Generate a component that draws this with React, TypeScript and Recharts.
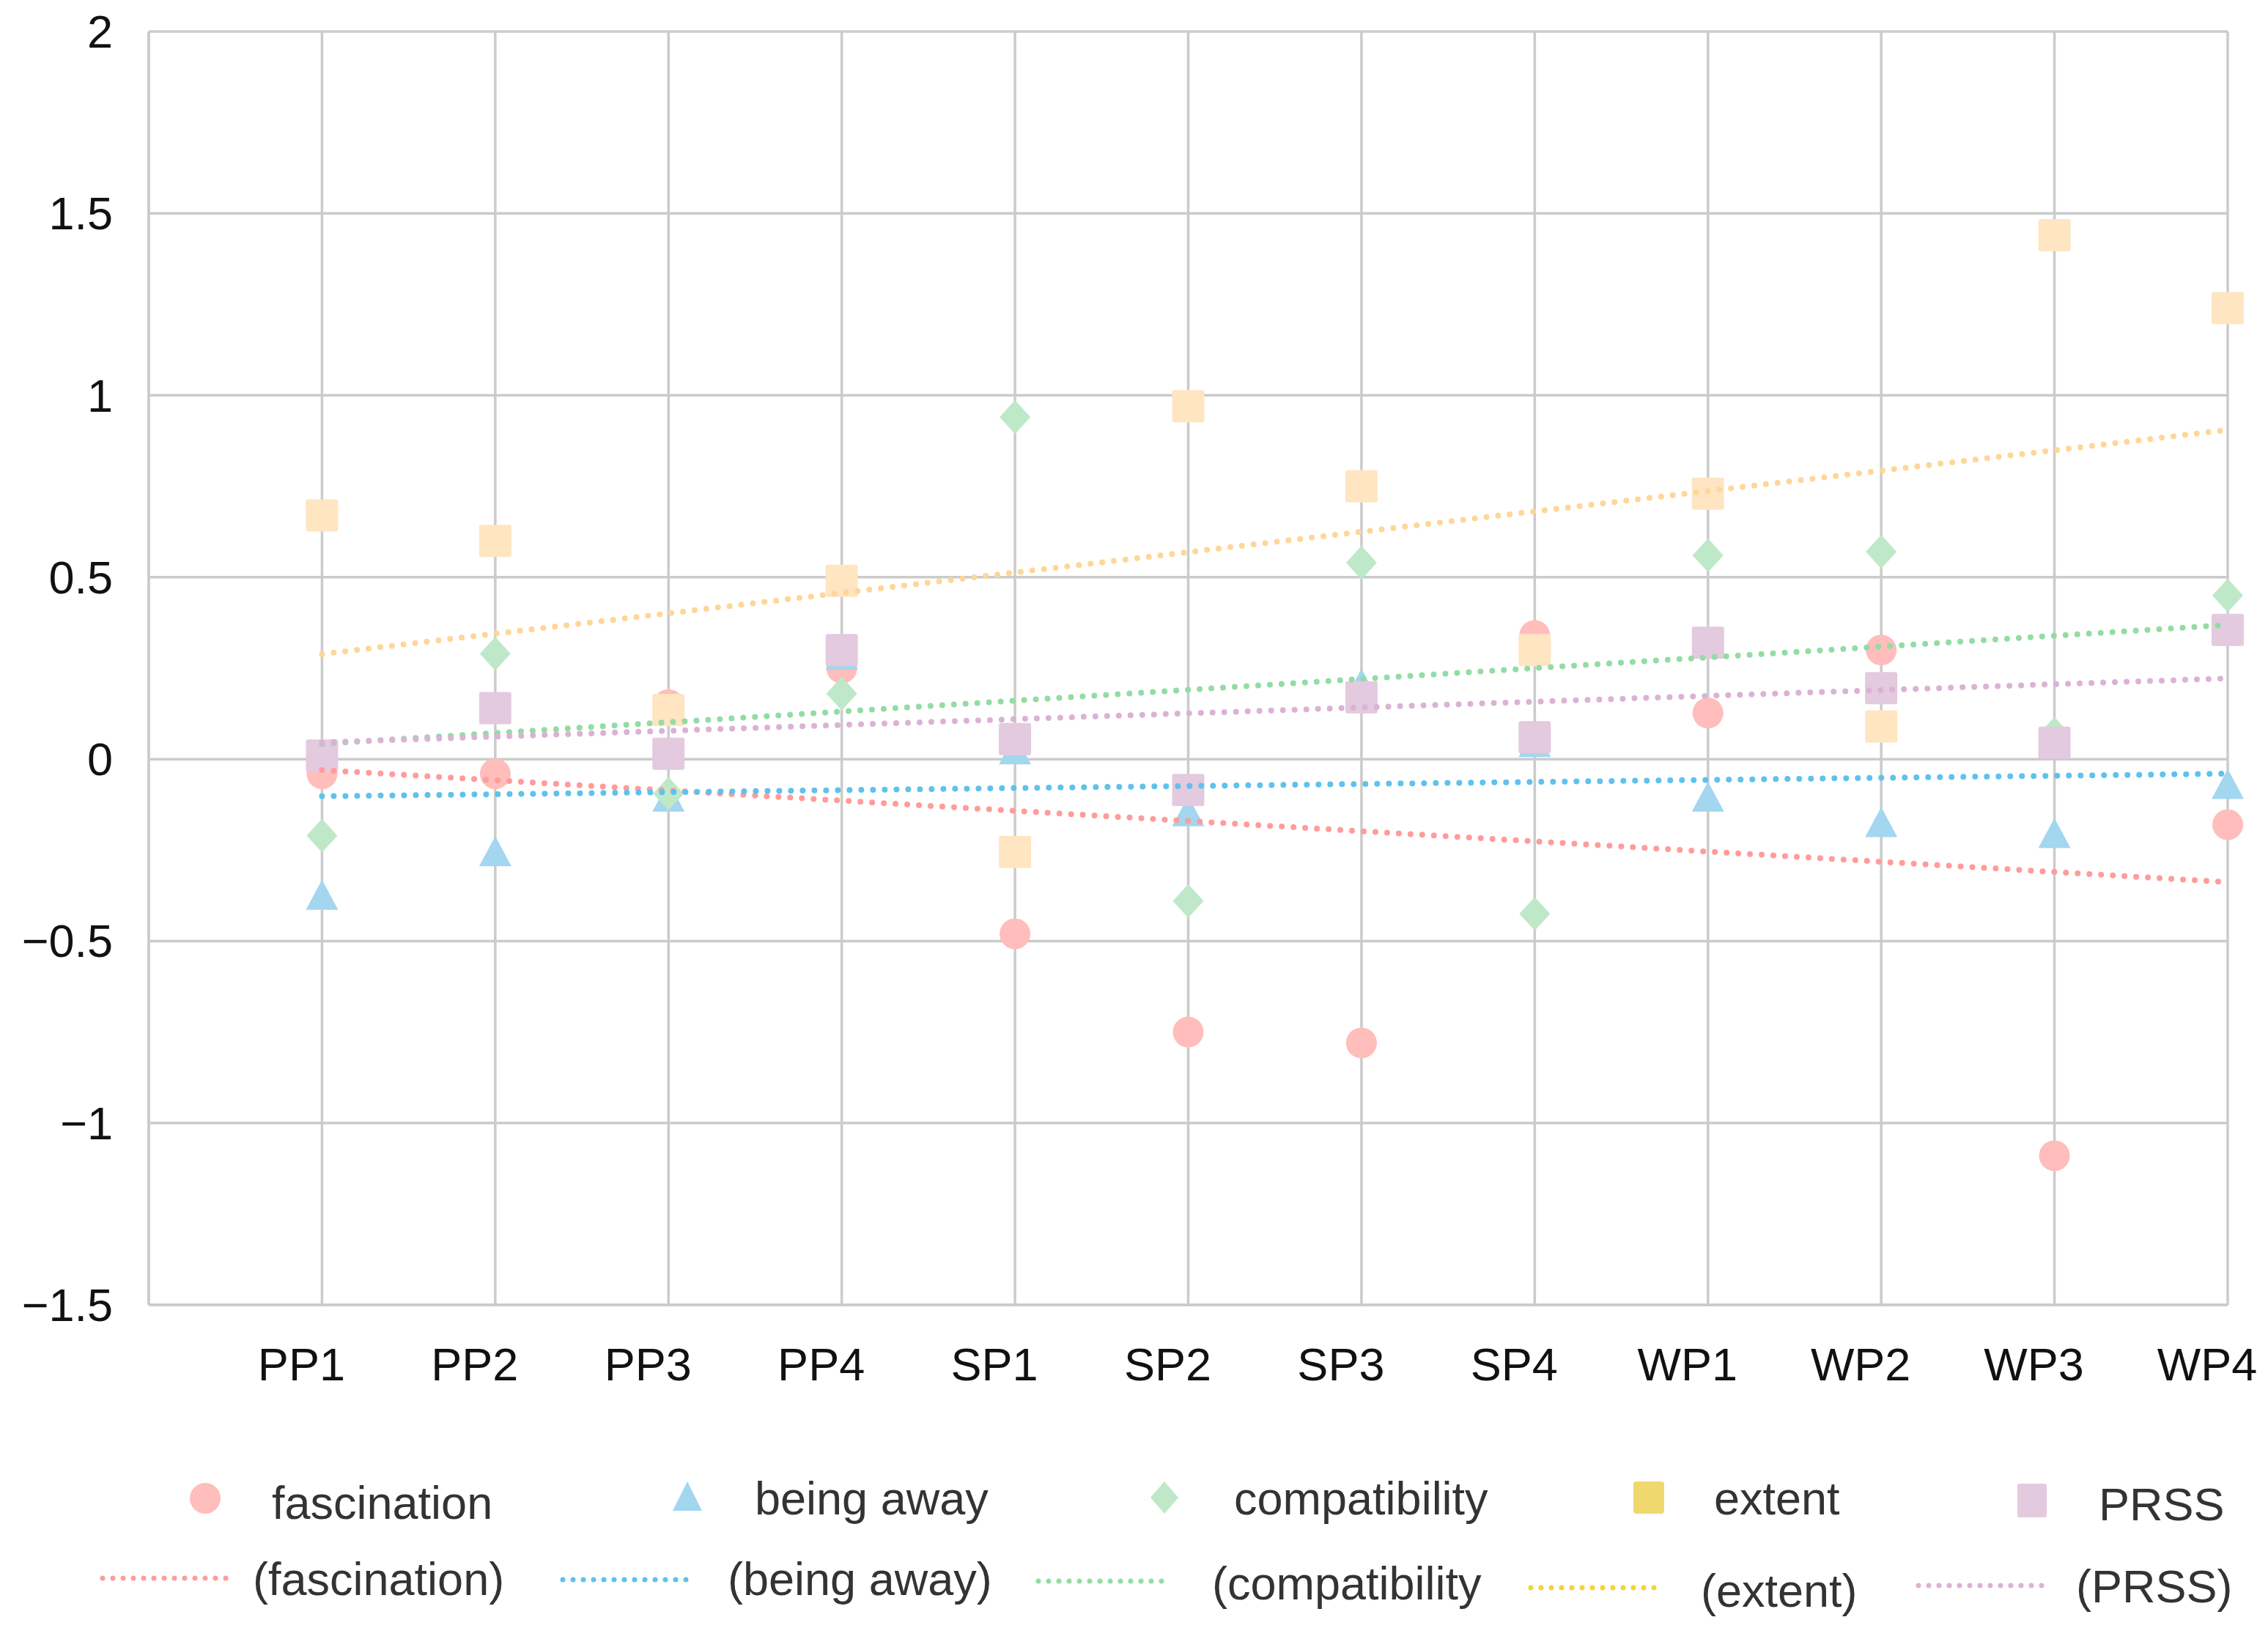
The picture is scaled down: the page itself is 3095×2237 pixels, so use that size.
import React from 'react';
import {
  ScatterChart,
  Scatter,
  XAxis,
  YAxis,
  CartesianGrid,
} from 'recharts';

const CATEGORIES = ['PP1', 'PP2', 'PP3', 'PP4', 'SP1', 'SP2', 'SP3', 'SP4', 'WP1', 'WP2', 'WP3', 'WP4'];
const Y_TICKS = [-1.5, -1, -0.5, 0, 0.5, 1, 1.5, 2];

const FASCINATION = [-0.04, -0.04, 0.15, 0.25, -0.48, -0.75, -0.78, 0.34, 0.127, 0.3, -1.09, -0.18];
const BEING_AWAY = [-0.38, -0.26, -0.11, 0.28, 0.02, -0.15, 0.2, 0.04, -0.11, -0.18, -0.21, -0.075];
const COMPATIBILITY = [-0.21, 0.29, -0.095, 0.18, 0.94, -0.39, 0.54, -0.425, 0.56, 0.57, 0.07, 0.45];
const EXTENT = [0.67, 0.6, 0.135, 0.49, -0.255, 0.97, 0.75, 0.3, 0.73, 0.09, 1.44, 1.24];
const PRSS = [0.01, 0.14, 0.015, 0.3, 0.055, -0.085, 0.17, 0.06, 0.32, 0.195, 0.045, 0.355];

// trend line ends, read at PP1 and WP4
const TREND_FASCINATION = [-0.03, -0.338];
const TREND_BEING_AWAY = [-0.102, -0.04];
const TREND_COMPATIBILITY = [0.042, 0.369];
const TREND_EXTENT = [0.289, 0.905];
const TREND_PRSS = [0.046, 0.222];

const FONT = '"Liberation Sans", Arial, Helvetica, sans-serif';
const GRID = '#cbcbcb';
const CHART_H = 1950;

const C = {
  fascination: '#ffbdbb',
  beingAway: '#a3d6ef',
  compatibility: '#bfe8c9',
  extent: '#ffe5c2',
  prss: '#e3cadf',
  tFascination: '#ff9c9a',
  tBeingAway: '#5fc2ec',
  tCompatibility: '#93dca4',
  tExtent: '#ffd699',
  tPrss: '#dcb2d4',
  legendExtent: '#efd96e',
  legendTExtent: '#f2d33a',
};

const toPoints = (vals: number[]) => vals.map((y, i) => ({ x: i + 1, y }));
const toTrend = (ends: number[]) => [
  { x: 1, y: ends[0] },
  { x: CATEGORIES.length, y: ends[1] },
];

const CircleShape = (p: any) => <circle cx={p.cx} cy={p.cy} r={21} fill={C.fascination} />;
const TriangleShape = (p: any) => (
  <polygon
    points={`${p.cx},${p.cy - 24} ${p.cx - 22},${p.cy + 17} ${p.cx + 22},${p.cy + 17}`}
    fill={C.beingAway}
  />
);
const DiamondShape = (p: any) => (
  <polygon
    points={`${p.cx},${p.cy - 23} ${p.cx + 21},${p.cy} ${p.cx},${p.cy + 23} ${p.cx - 21},${p.cy}`}
    fill={C.compatibility}
  />
);
const makeSquare = (fill: string) => (p: any) => (
  <rect x={p.cx - 22} y={p.cy - 22} width={44} height={44} rx={3} fill={fill} />
);
const ExtentShape = makeSquare(C.extent);
const PrssShape = makeSquare(C.prss);
const NoShape = () => <g />;

const dotted = (stroke: string) => ({
  stroke,
  strokeWidth: 8,
  strokeDasharray: '0 16',
  strokeLinecap: 'round' as const,
});

const XTick = ({ x, y, payload }: any) => (
  <text x={x - 28} y={y + 103} textAnchor="middle" fontSize={63} fontFamily={FONT} fill="#111">
    {CATEGORIES[payload.value - 1]}
  </text>
);

const YTick = ({ x, y, payload }: any) => (
  <text x={x - 49} y={y + 22} textAnchor="end" fontSize={63} fontFamily={FONT} fill="#111">
    {String(payload.value).replace('-', '\u2212')}
  </text>
);

function Legend() {
  const o = CHART_H;
  const text = { fontSize: 63, fontFamily: FONT, fill: '#333' };
  const dots = (x1: number, x2: number, y: number, stroke: string) => (
    <line x1={x1} x2={x2} y1={y - o} y2={y - o} stroke={stroke} strokeWidth={7} strokeDasharray="0 14" strokeLinecap="round" />
  );
  return (
    <svg width={3095} height={2237 - CHART_H} style={{ display: 'block' }}>
      {/* row 1: markers */}
      <circle cx={280} cy={2045 - o} r={21} fill={C.fascination} />
      <text x={371} y={2073 - o} {...text}>fascination</text>
      <polygon points={`938,${2022 - o} 918,${2062 - o} 958,${2062 - o}`} fill={C.beingAway} />
      <text x={1030} y={2067 - o} {...text}>being away</text>
      <polygon points={`1589,${2022 - o} 1608,${2044 - o} 1589,${2066 - o} 1570,${2044 - o}`} fill={C.compatibility} />
      <text x={1684} y={2067 - o} {...text}>compatibility</text>
      <rect x={2229} y={2022 - o} width={42} height={44} rx={4} fill={C.legendExtent} />
      <text x={2339} y={2067 - o} {...text}>extent</text>
      <rect x={2753} y={2025 - o} width={40} height={46} rx={3} fill={C.prss} />
      <text x={2864} y={2075 - o} {...text}>PRSS</text>
      {/* row 2: trend lines */}
      {dots(140, 314, 2154, C.tFascination)}
      <text x={345} y={2177 - o} {...text}>(fascination)</text>
      {dots(768, 946, 2156, C.tBeingAway)}
      <text x={993} y={2177 - o} {...text}>(being away)</text>
      {dots(1417, 1593, 2158, C.tCompatibility)}
      <text x={1654} y={2183 - o} {...text}>(compatibility</text>
      {dots(2089, 2264, 2167, C.legendTExtent)}
      <text x={2321} y={2193 - o} {...text}>(extent)</text>
      {dots(2618, 2791, 2164, C.tPrss)}
      <text x={2833} y={2187 - o} {...text}>(PRSS)</text>
    </svg>
  );
}

export default function App() {
  return (
    <div style={{ width: 3095, height: 2237, background: '#fff' }}>
      <style>{'body{margin:0;}'}</style>
      <ScatterChart width={3095} height={CHART_H} margin={{ top: 43, right: 55, bottom: 0, left: 0 }}>
        <CartesianGrid stroke={GRID} strokeWidth={3.5} />
        <XAxis
          type="number"
          dataKey="x"
          domain={[0, CATEGORIES.length]}
          ticks={CATEGORIES.map((_, i) => i + 1)}
          tick={<XTick />}
          tickLine={false}
          tickSize={0}
          tickMargin={0}
          axisLine={{ stroke: GRID, strokeWidth: 3.5 }}
          height={169}
          interval={0}
        />
        <YAxis
          type="number"
          dataKey="y"
          domain={[-1.5, 2]}
          ticks={Y_TICKS}
          tick={<YTick />}
          tickLine={false}
          tickSize={0}
          tickMargin={0}
          axisLine={{ stroke: GRID, strokeWidth: 3.5 }}
          width={203}
          interval={0}
        />
        <Scatter data={toPoints(FASCINATION)} shape={CircleShape} isAnimationActive={false} />
        <Scatter data={toPoints(BEING_AWAY)} shape={TriangleShape} isAnimationActive={false} />
        <Scatter data={toPoints(COMPATIBILITY)} shape={DiamondShape} isAnimationActive={false} />
        <Scatter data={toPoints(EXTENT)} shape={ExtentShape} isAnimationActive={false} />
        <Scatter data={toPoints(PRSS)} shape={PrssShape} isAnimationActive={false} />
        <Scatter data={toTrend(TREND_FASCINATION)} shape={NoShape} line={dotted(C.tFascination)} isAnimationActive={false} />
        <Scatter data={toTrend(TREND_BEING_AWAY)} shape={NoShape} line={dotted(C.tBeingAway)} isAnimationActive={false} />
        <Scatter data={toTrend(TREND_COMPATIBILITY)} shape={NoShape} line={dotted(C.tCompatibility)} isAnimationActive={false} />
        <Scatter data={toTrend(TREND_EXTENT)} shape={NoShape} line={dotted(C.tExtent)} isAnimationActive={false} />
        <Scatter data={toTrend(TREND_PRSS)} shape={NoShape} line={dotted(C.tPrss)} isAnimationActive={false} />
      </ScatterChart>
      <Legend />
    </div>
  );
}
